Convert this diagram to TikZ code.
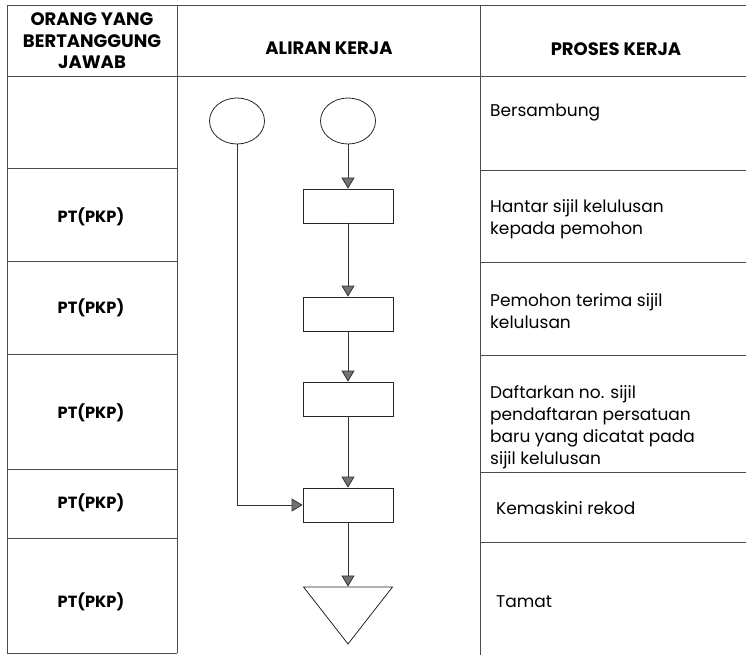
\documentclass[tikz,border=0pt]{standalone}
\usepackage{fontspec}
\setmainfont{Poppins}
\usetikzlibrary{arrows.meta,shapes.geometric}
\begin{document}
\begin{tikzpicture}[x=1pt,y=-1pt,
  grid/.style={draw=black!70, line width=0.7pt},
  flow/.style={draw=black!85, line width=0.8pt},
  box/.style={flow, minimum width=90pt, minimum height=34pt, inner sep=0pt},
  term/.style={flow, ellipse, minimum width=55pt, minimum height=46pt, inner sep=0pt},
  arr/.style={draw=black!80, line width=0.8pt, -{Triangle[width=13pt,length=11pt,fill=black!55]}},
  hdr/.style={font=\bfseries\fontsize{18}{21.5}\selectfont, align=center},
  who/.style={font=\bfseries\fontsize{16.2}{19}\selectfont},
  proc/.style={font=\fontsize{17}{22}\selectfont, align=left, anchor=west, inner sep=0pt}
]
\useasboundingbox (0,0) rectangle (746,655);
% table grid
\draw[grid] (7,5) -- (746,5);
\draw[grid] (7,76) -- (746,76);
\draw[grid] (7,5) -- (7,653);
\draw[grid] (177,5) -- (177,653);
\draw[grid] (480,5) -- (480,655);
\foreach \yy in {168,261,354,469,538,653} \draw[grid] (7,\yy) -- (177,\yy);
\foreach \yy in {170,262,355,472,542} \draw[grid] (480,\yy) -- (746,\yy);
% headers
\node[hdr] (h1) at (92,41) {ORANG YANG\\BERTANGGUNG\\JAWAB};
\node[hdr] (h2) at (329,48) {ALIRAN KERJA};
\node[hdr] (h3) at (616,49) {PROSES KERJA};
% responsible
\node[who] (w1) at (91,217) {PT(PKP)};
\node[who] (w2) at (91,308) {PT(PKP)};
\node[who] (w3) at (91,413) {PT(PKP)};
\node[who] (w4) at (91,503) {PT(PKP)};
\node[who] (w5) at (91,602) {PT(PKP)};
% process texts
\node[proc] (p0) at (490,113) {Bersambung};
\node[proc] (p1) at (490,219) {Hantar sijil kelulusan\\kepada pemohon};
\node[proc] (p2) at (490,311) {Pemohon terima sijil\\kelulusan};
\node[proc] (p3) at (490,427) {Daftarkan no. sijil\\pendaftaran persatuan\\baru yang dicatat pada\\sijil kelulusan};
\node[proc] (p4) at (496,508) {Kemaskini rekod};
\node[proc] (p5) at (496,602) {Tamat};
% flow
\node[term] (c1) at (237,121) {};
\node[term] (c2) at (348,121) {};
\node[box] (b1) at (348,206) {};
\node[box] (b2) at (348,314) {};
\node[box] (b3) at (348,399) {};
\node[box] (b4) at (348,505) {};
\node[flow, isosceles triangle, isosceles triangle stretches, shape border rotate=270,
      minimum width=89pt, minimum height=57pt, inner sep=0pt, anchor=apex] (t) at (348,645) {};
\draw[arr] (c2) -- (b1);
\draw[arr] (b1) -- (b2);
\draw[arr] (b2) -- (b3);
\draw[arr] (b3) -- (b4);
\draw[arr] (b4) -- (t);
\draw[arr] (c1) |- (b4);
\end{tikzpicture}
\end{document}
